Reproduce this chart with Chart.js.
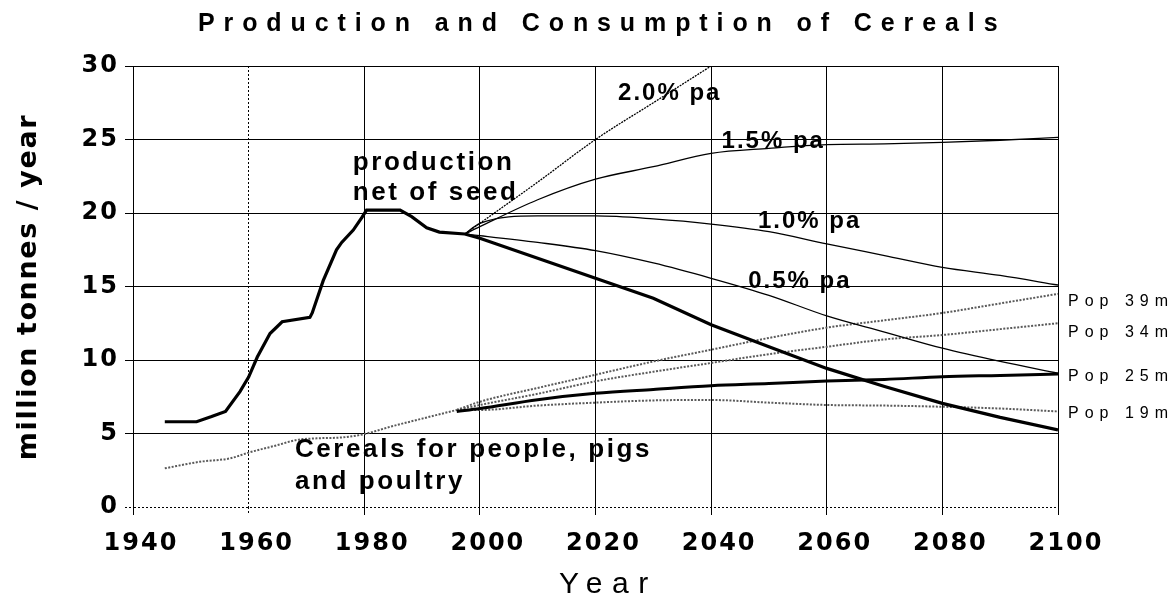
<!DOCTYPE html>
<html><head><meta charset="utf-8">
<script src="https://cdn.jsdelivr.net/npm/chart.js@4.4.1/dist/chart.umd.min.js"></script>
<style>html,body{margin:0;padding:0;background:#fff;}canvas{display:block;}</style>
</head><body>
<canvas id="c" width="1175" height="598"></canvas>
<script>
// ---- text ----
const chartTitle = 'Production and Consumption of Cereals';
const yAxisTitle = 'million tonnes / year';
const xAxisTitle = 'Year';

// ---- tick labels ----
const xTicks = [1940, 1960, 1980, 2000, 2020, 2040, 2060, 2080, 2100];
const yTicks = [0, 5, 10, 15, 20, 25, 30];

// ---- production net of seed (history + trend) ----
const prodYears = [1945.5, 1951, 1953.6, 1956, 1958.5, 1960, 1961.5, 1963.7, 1965.8, 1970.6, 1971, 1972.9, 1975.2, 1976.1, 1978.1, 1979.6, 1980.4, 1986.2, 1988.2, 1990.8, 1993, 1997.4, 2000, 2010, 2020, 2030, 2040, 2050, 2060, 2070, 2080, 2090, 2100];
const prodValues = [5.8, 5.8, 6.15, 6.5, 7.85, 8.84, 10.2, 11.8, 12.6, 12.9, 13.2, 15.4, 17.5, 18.0, 18.84, 19.7, 20.2, 20.2, 19.75, 19.0, 18.7, 18.57, 18.28, 16.92, 15.56, 14.2, 12.4, 10.9, 9.43, 8.2, 7.05, 6.1, 5.25];

// ---- production growth scenarios ----
const growthYears = [1997.4, 2000, 2010, 2020, 2030, 2040, 2050, 2060, 2070, 2080, 2090, 2100];
const pa20Years = [1997.4, 2000, 2010, 2020, 2030, 2040];
const pa20Values = [18.57, 19.3, 22.1, 25.0, 27.5, 30.0];
const pa15Values = [18.57, 19.07, 20.9, 22.3, 23.15, 24.06, 24.4, 24.65, 24.7, 24.8, 24.95, 25.15];
const pa10Values = [18.57, 19.3, 19.8, 19.8, 19.6, 19.25, 18.73, 17.9, 17.1, 16.3, 15.75, 15.1];
const pa05Values = [18.57, 18.46, 18.0, 17.44, 16.6, 15.56, 14.4, 13.0, 11.9, 10.8, 9.9, 9.1];

// ---- cereals for people, pigs and poultry ----
const consYears = [1945.5, 1951.6, 1956.8, 1960, 1964.9, 1968.3, 1971.8, 1976.4, 1979.9, 1984.5, 1990.2, 1996];
const consValues = [2.63, 3.08, 3.31, 3.7, 4.2, 4.56, 4.67, 4.74, 4.95, 5.46, 6.03, 6.6];
const popYears = [1996, 2000, 2010, 2020, 2030, 2040, 2050, 2060, 2070, 2080, 2090, 2100];
const pop39Values = [6.6, 7.16, 8.1, 9.0, 9.9, 10.7, 11.5, 12.2, 12.7, 13.2, 13.85, 14.5];
const pop34Values = [6.6, 6.94, 7.7, 8.55, 9.2, 9.8, 10.4, 10.9, 11.4, 11.7, 12.1, 12.5];
const pop25Values = [6.5, 6.7, 7.3, 7.73, 8.0, 8.25, 8.4, 8.57, 8.68, 8.86, 8.95, 9.05];
const pop19Values = [6.6, 6.6, 6.9, 7.1, 7.25, 7.28, 7.1, 6.94, 6.9, 6.82, 6.7, 6.5];

// ---- in-chart labels (text + anchor in data units) ----
const noteTexts = ['production', 'net of seed', '2.0% pa', '1.5% pa', '1.0% pa', '0.5% pa', 'Cereals for people, pigs', 'and poultry'];
const noteX = [1978.0, 1978.0, 2023.9, 2041.8, 2048.1, 2046.4, 1968.0, 1968.0];
const noteY = [23.4, 21.36, 28.14, 24.85, 19.41, 15.33, 3.88, 1.72];
const popLabels = ['Pop 39m', 'Pop 34m', 'Pop 25m', 'Pop 19m'];
const popLabelY = [13.97, 11.84, 8.86, 6.37];

const pts = (xs, ys) => xs.map((x, i) => ({x: x, y: ys[i]}));

function txt(ctx, s, x, y, font, ls, align, base) {
  ctx.save();
  ctx.font = font;
  ctx.letterSpacing = ls + 'px';
  ctx.fillStyle = '#000';
  ctx.textAlign = align || 'left';
  ctx.textBaseline = base || 'middle';
  ctx.fillText(s, x, y);
  ctx.restore();
}

const textPlugin = {
  id: 'texts',
  beforeUpdate(chart) { chart.ctx.letterSpacing = '2px'; },
  beforeDraw(chart) {
    const c = chart.ctx;
    c.letterSpacing = '2px';
    c.save(); c.fillStyle = '#fff'; c.fillRect(0, 0, chart.width, chart.height); c.restore();
  },
  afterDraw(chart) {
    const c = chart.ctx, xs = chart.scales.x, ys = chart.scales.y;
    txt(c, chartTitle, 198, 31, 'bold 25px "Liberation Sans"', 8.9, 'left', 'alphabetic');
    txt(c, xAxisTitle, 559, 593, '30px "Liberation Sans"', 9.5, 'left', 'alphabetic');
    c.save();
    c.translate(36, 287);
    c.rotate(-Math.PI / 2);
    txt(c, yAxisTitle, 0, 0, 'bold 27px "DejaVu Sans"', 1.6, 'center', 'alphabetic');
    c.restore();
    noteTexts.forEach((s, i) => {
      const big = i < 2 || i > 5;
      txt(c, s, xs.getPixelForValue(noteX[i]), ys.getPixelForValue(noteY[i]),
          big ? 'bold 26px "Liberation Sans"' : 'bold 24px "Liberation Sans"', big ? 2.6 : 2);
    });
    popLabels.forEach((s, i) => {
      txt(c, s, xs.right + 10, ys.getPixelForValue(popLabelY[i]), '16px "Liberation Sans"', 6);
    });
  }
};

const thin = {borderColor: '#000', borderWidth: 1.3, cubicInterpolationMode: 'monotone'};
const grey = {borderColor: '#5a5a5a', borderWidth: 2, borderDash: [2, 1.5], cubicInterpolationMode: 'monotone'};
const tickFont = {family: 'DejaVu Sans', weight: 'bold', size: 24};

new Chart(document.getElementById('c'), {
  type: 'line',
  data: {
    datasets: [
      {label: 'production', data: pts(prodYears, prodValues), borderColor: '#000', borderWidth: 3.2},
      Object.assign({label: 'Pop 25m', data: pts(popYears, pop25Values)}, {borderColor: '#000', borderWidth: 3, cubicInterpolationMode: 'monotone'}),
      Object.assign({label: '2.0% pa', data: pts(pa20Years, pa20Values)}, thin, {borderDash: [2, 1]}),
      Object.assign({label: '1.5% pa', data: pts(growthYears, pa15Values)}, thin),
      Object.assign({label: '1.0% pa', data: pts(growthYears, pa10Values)}, thin),
      Object.assign({label: '0.5% pa', data: pts(growthYears, pa05Values)}, thin),
      Object.assign({label: 'cereals', data: pts(consYears, consValues)}, grey),
      Object.assign({label: 'Pop 39m', data: pts(popYears, pop39Values)}, grey),
      Object.assign({label: 'Pop 34m', data: pts(popYears, pop34Values)}, grey),
      Object.assign({label: 'Pop 19m', data: pts(popYears, pop19Values)}, grey)
    ]
  },
  options: {
    responsive: false,
    animation: false,
    devicePixelRatio: 1,
    layout: {padding: {top: 66, right: 117, bottom: 0, left: 0}},
    elements: {point: {radius: 0}, line: {fill: false}},
    plugins: {legend: {display: false}, tooltip: {enabled: false}, title: {display: false}},
    scales: {
      x: {
        type: 'linear', min: 1940, max: 2100,
        afterBuildTicks: s => { s.ticks = xTicks.map(v => ({value: v})); },
        afterFit: s => { s.height = 91; },
        ticks: {callback: v => String(v), color: '#000', font: tickFont, padding: 14, labelOffset: 8, maxRotation: 0, autoSkip: false},
        grid: {color: '#000', lineWidth: 1, tickLength: 8, tickColor: '#000',
               tickBorderDash: c => (c.tick && c.tick.value === 1960) ? [2, 2] : []},
        border: {display: false, dash: c => (c.tick && c.tick.value === 1960) ? [2, 2] : []}
      },
      y: {
        min: 0, max: 30,
        afterBuildTicks: s => { s.ticks = yTicks.map(v => ({value: v})); },
        afterFit: s => { s.width = 133; },
        ticks: {callback: v => String(v), color: '#000', font: tickFont, padding: 6},
        grid: {color: '#000', lineWidth: 1, tickLength: 8, tickColor: '#000',
               tickBorderDash: c => (c.tick && c.tick.value === 0) ? [2, 2] : []},
        border: {display: true, color: '#000', width: 1, dash: c => (c.tick && c.tick.value === 0) ? [2, 2] : []}
      }
    }
  },
  plugins: [textPlugin]
});
</script>
</body></html>
